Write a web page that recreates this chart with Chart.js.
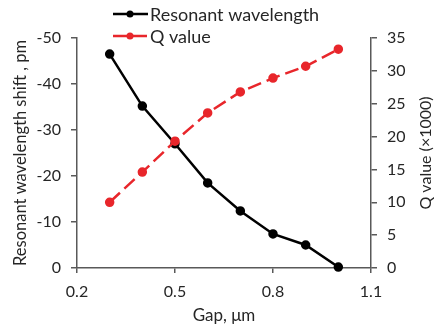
<!DOCTYPE html>
<html>
<head>
<meta charset="utf-8">
<script src="https://cdn.jsdelivr.net/npm/chart.js@4/dist/chart.umd.min.js"></script>
<style>
  html, body { margin: 0; padding: 0; background: #fff; }
  #wrap { width: 434px; height: 329px; }
</style>
</head>
<body>
<div id="wrap"><canvas id="gapChart" width="434" height="329"></canvas></div>
<script>
// data
var gaps = [0.3, 0.4, 0.5, 0.6, 0.7, 0.8, 0.9, 1.0];
var shift = [-46.5, -35.2, -27.0, -18.5, -12.4, -7.4, -5.0, -0.2];
var qValue = [10.0, 14.6, 19.3, 23.6, 26.8, 28.9, 30.7, 33.3];
var seriesNames = ['Resonant wavelength', 'Q value'];
var rightTitle = 'Q value (×1000)';

var axisColor = '#595959';
var textColor = '#262626';
var fontFamily = 'Lato, "Noto Sans", sans-serif';

function points(xs, ys) {
  return xs.map(function (x, i) { return { x: x, y: ys[i] }; });
}

// legend stacked above the plot, plus the right title read bottom-to-top
var extraText = {
  id: 'extraText',
  afterDraw: function (chart) {
    var ctx = chart.ctx;
    chart.data.datasets.forEach(function (ds, i) {
      var y = 14 + i * 22;
      ctx.save();
      ctx.strokeStyle = ds.borderColor;
      ctx.lineWidth = ds.borderWidth;
      ctx.setLineDash(ds.borderDash || []);
      ctx.beginPath();
      ctx.moveTo(113, y);
      ctx.lineTo(148, y);
      ctx.stroke();
      ctx.setLineDash([]);
      ctx.fillStyle = ds.pointBackgroundColor;
      ctx.beginPath();
      ctx.arc(130, y, ds.pointRadius, 0, Math.PI * 2);
      ctx.fill();
      ctx.fillStyle = textColor;
      ctx.font = '18px ' + fontFamily;
      ctx.textBaseline = 'middle';
      ctx.fillText(ds.label, 150, y + 1);
      ctx.restore();
    });

    var area = chart.chartArea;
    ctx.save();
    ctx.translate(426, (area.top + area.bottom) / 2);
    ctx.rotate(-Math.PI / 2);
    ctx.fillStyle = textColor;
    ctx.font = '16px ' + fontFamily;
    ctx.textAlign = 'center';
    ctx.textBaseline = 'middle';
    ctx.fillText(rightTitle, 0, 0);
    ctx.restore();
  }
};

var ctx = document.getElementById('gapChart').getContext('2d');
var gapChart = new Chart(ctx, {
  type: 'line',
  data: {
    datasets: [{
      label: seriesNames[0],
      data: points(gaps, shift),
      yAxisID: 'y',
      borderColor: '#000000',
      backgroundColor: '#000000',
      pointBackgroundColor: '#000000',
      pointBorderColor: '#000000',
      borderWidth: 2.5,
      pointRadius: 3.5,
      order: 2,
      clip: false
    }, {
      label: seriesNames[1],
      data: points(gaps, qValue),
      yAxisID: 'y1',
      borderColor: '#e8262b',
      backgroundColor: '#e8262b',
      pointBackgroundColor: '#e8262b',
      pointBorderColor: '#e8262b',
      borderWidth: 2.5,
      borderDash: [14, 6],
      pointRadius: 3.5,
      order: 1,
      clip: false
    }]
  },
  options: {
    responsive: false,
    animation: false,
    layout: {
      padding: { top: 38, left: 0, right: 0, bottom: 0 }
    },
    plugins: {
      legend: { display: false },
      tooltip: { enabled: false }
    },
    scales: {
      x: {
        type: 'linear',
        min: 0.2,
        max: 1.1,
        afterFit: function (s) { s.height = 61; },
        afterBuildTicks: function (s) {
          s.ticks = [0.2, 0.5, 0.8, 1.1].map(function (v) { return { value: v }; });
        },
        ticks: {
          color: textColor,
          font: { family: fontFamily, size: 16 },
          padding: 9,
          maxRotation: 0,
          callback: function (v) { return v.toFixed(1); }
        },
        grid: {
          drawOnChartArea: false,
          drawTicks: true,
          tickLength: 5,
          color: axisColor,
          lineWidth: 1.5
        },
        border: { color: axisColor, width: 1.5 },
        title: {
          display: true,
          text: 'Gap, μm',
          color: textColor,
          font: { family: fontFamily, size: 17 },
          padding: { top: 0, bottom: 3 }
        }
      },
      y: {
        position: 'left',
        min: -50,
        max: 0,
        reverse: true,
        afterFit: function (s) { s.width = 77; },
        ticks: {
          stepSize: 10,
          color: textColor,
          font: { family: fontFamily, size: 16 },
          padding: 10
        },
        grid: {
          drawOnChartArea: false,
          drawTicks: true,
          tickLength: 6,
          color: axisColor,
          lineWidth: 1.5
        },
        border: { color: axisColor, width: 1.5 },
        title: {
          display: true,
          text: 'Resonant wavelength shift , pm',
          color: textColor,
          font: { family: fontFamily, size: 16.5 },
          padding: { top: 11, bottom: 0 }
        }
      },
      y1: {
        position: 'right',
        min: 0,
        max: 35,
        afterFit: function (s) { s.width = 63; },
        ticks: {
          stepSize: 5,
          color: textColor,
          font: { family: fontFamily, size: 16 },
          padding: 10
        },
        grid: {
          drawOnChartArea: false,
          drawTicks: true,
          tickLength: 6,
          color: axisColor,
          lineWidth: 1.5
        },
        border: { color: axisColor, width: 1.5 },
        title: { display: false }
      }
    }
  },
  plugins: [extraText]
});
</script>
</body>
</html>
